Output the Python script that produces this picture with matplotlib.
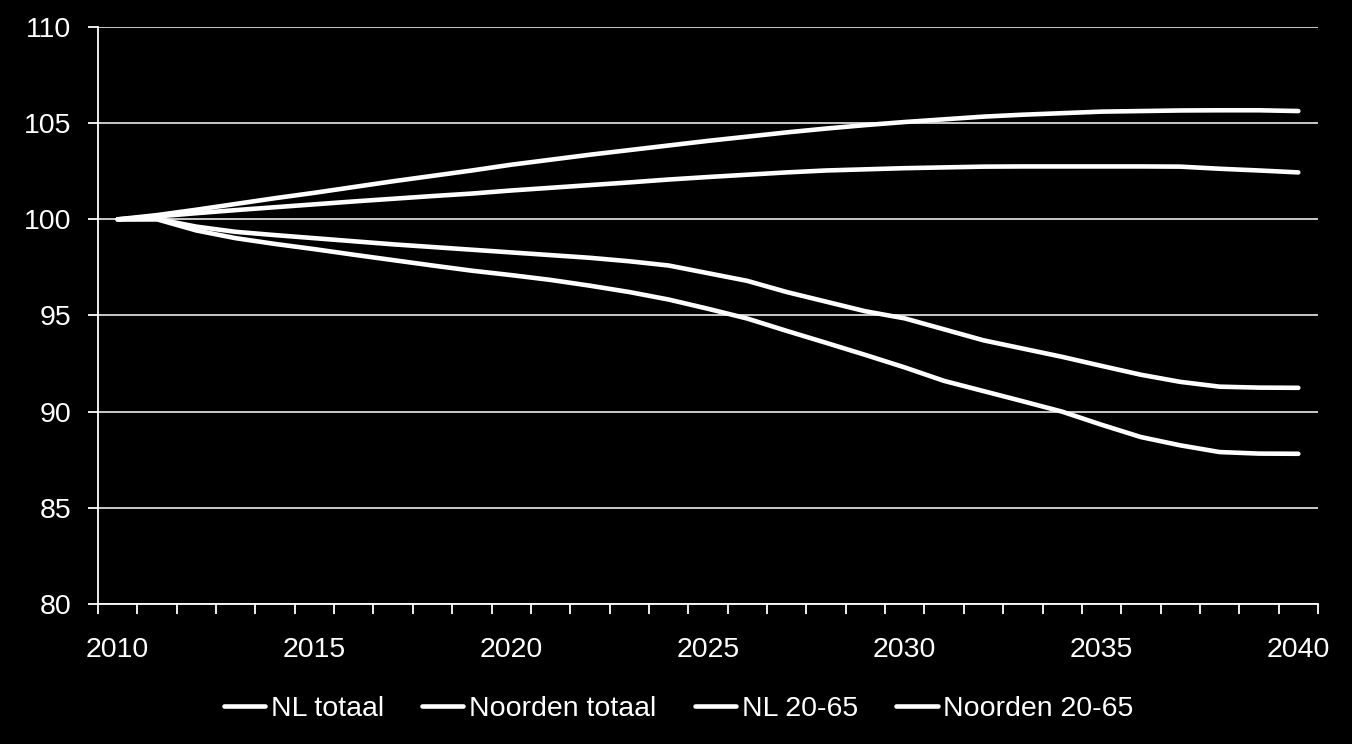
import numpy as np
import matplotlib.pyplot as plt

years = list(range(2010, 2041))

nl_totaal = [100.0, 100.22, 100.5, 100.8, 101.1, 101.38, 101.68, 101.98, 102.26, 102.54,
             102.84, 103.1, 103.36, 103.6, 103.84, 104.08, 104.3, 104.52, 104.72, 104.9,
             105.06, 105.2, 105.34, 105.44, 105.52, 105.6, 105.63, 105.66, 105.67, 105.67,
             105.63]
noorden_totaal = [100.0, 100.15, 100.32, 100.48, 100.63, 100.78, 100.93, 101.07, 101.21, 101.34,
                  101.5, 101.64, 101.78, 101.92, 102.07, 102.2, 102.32, 102.44, 102.54, 102.6,
                  102.66, 102.7, 102.74, 102.75, 102.75, 102.75, 102.75, 102.74, 102.63, 102.54,
                  102.44]
nl_2065 = [100.0, 100.02, 99.62, 99.35, 99.18, 99.02, 98.86, 98.7, 98.56, 98.42,
           98.28, 98.14, 98.0, 97.82, 97.6, 97.2, 96.8, 96.22, 95.72, 95.22,
           94.85, 94.28, 93.71, 93.28, 92.85, 92.38, 91.92, 91.55, 91.3, 91.25,
           91.24]
noorden_2065 = [100.0, 100.0, 99.42, 99.02, 98.72, 98.45, 98.16, 97.88, 97.6, 97.33,
                97.1, 96.85, 96.55, 96.22, 95.83, 95.35, 94.84, 94.2, 93.58, 92.95,
                92.3, 91.6, 91.07, 90.54, 90.0, 89.32, 88.68, 88.25, 87.9, 87.82,
                87.81]

series = [("NL totaal", nl_totaal), ("Noorden totaal", noorden_totaal),
          ("NL 20-65", nl_2065), ("Noorden 20-65", noorden_2065)]

plt.rcParams['font.family'] = ['Liberation Sans', 'DejaVu Sans']

fig = plt.figure(figsize=(13.52, 7.44), dpi=100, facecolor="black")
ax = fig.add_axes([98 / 1352, 1 - 604 / 744, 1220 / 1352, 577 / 744])
ax.set_facecolor("black")

x = np.arange(len(years))
for name, vals in series:
    ax.plot(x, vals, color="white", lw=3.3, solid_capstyle="round",
            solid_joinstyle="round", label=name, zorder=3)

ax.set_xlim(-0.5, len(years) - 0.5)
ax.set_ylim(80, 110)
ax.set_yticks(range(80, 111, 5))
ax.set_xticks(x[::5])
ax.set_xticklabels([str(y) for y in years[::5]])
ax.set_xticks(np.arange(-0.5, len(years), 1), minor=True)

ax.grid(axis="y", color="white", lw=1.1, zorder=1)
for side in ["top", "right"]:
    ax.spines[side].set_visible(False)
for side in ["left", "bottom"]:
    ax.spines[side].set_color("white")
    ax.spines[side].set_linewidth(1.3)

ax.tick_params(axis="x", which="major", length=0, pad=24, labelsize=20.5, colors="white")
ax.tick_params(axis="x", which="minor", length=7, width=1.3, color="white")
ax.tick_params(axis="y", length=7, width=1.3, pad=12, labelsize=20.5, colors="white")

leg = fig.legend(loc="center", bbox_to_anchor=(0.502, 1 - 709 / 744), ncol=4,
                 frameon=False, fontsize=20.5, handlelength=1.45, handletextpad=0.2,
                 columnspacing=1.35)
for t in leg.get_texts():
    t.set_color("white")
for h in leg.get_lines():
    h.set_linewidth(3.3)

fig.savefig("out.png", dpi=100, facecolor="black")
